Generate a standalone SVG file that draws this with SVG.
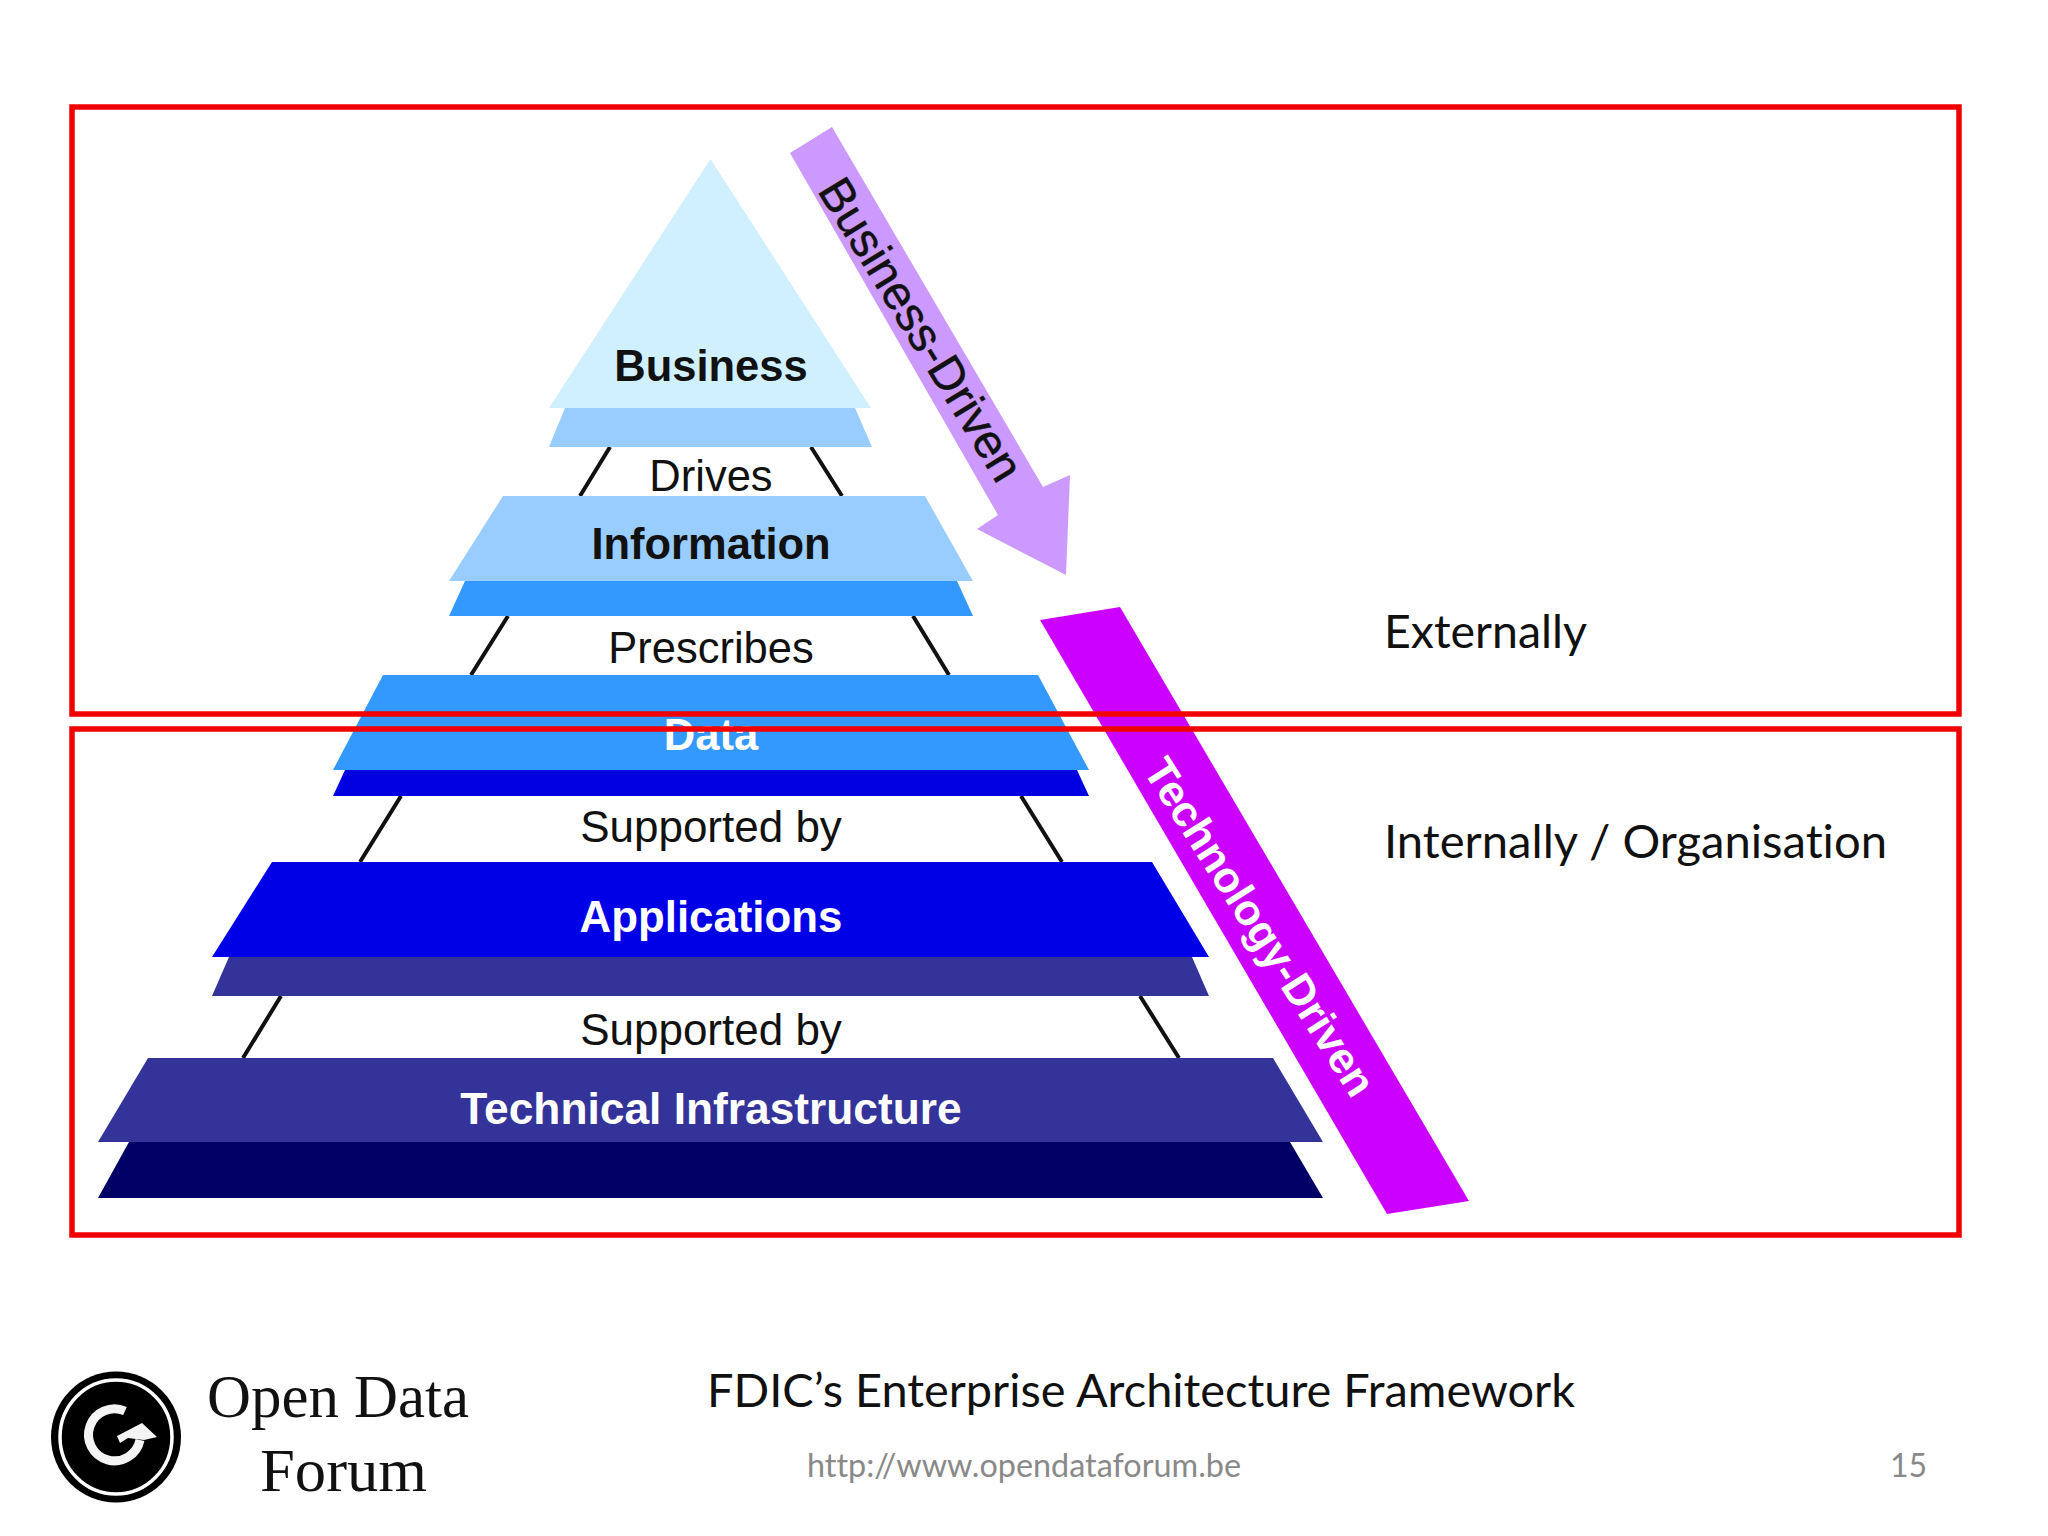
<svg xmlns="http://www.w3.org/2000/svg" width="2048" height="1536" viewBox="0 0 2048 1536">
<style>
text{font-family:"Liberation Sans",Arial,sans-serif;font-size:43.5px;text-anchor:middle}
.b{font-weight:bold}
.k{fill:#111}
.w{fill:#fff}
.side{font-family:Lato,"Noto Sans",sans-serif;font-size:47px;text-anchor:start;fill:#111;font-variant-ligatures:none}
.logo{font-family:"Liberation Serif",serif;font-size:61px;fill:#111;text-anchor:start}
.grey{font-family:Lato,"Noto Sans",sans-serif;font-size:32px;fill:#898989;text-anchor:start;font-variant-ligatures:none}
.frame{fill:none;stroke:#f00000;stroke-width:5.5}
.ln{stroke:#111;stroke-width:4;fill:none}
</style>
<rect width="2048" height="1536" fill="#fff"/>
<g id="connectors">
<path class="ln" d="M610 447L580 496M811 447L842 496M508 616L471 675M913 616L949 675M401 796L360 862M1021 796L1062 862M281 996L243 1058M1140 996L1179 1058"/>
</g>
<g id="business">
<polygon points="565,408 855,408 872,447 549,447" fill="#99ccff"/>
<polygon points="710.5,159 871,408 549,408" fill="#d0f0ff"/>
<text class="b k" x="711" y="381">Business</text>
</g>
<g id="drives"><text class="k" x="711" y="491">Drives</text></g>
<g id="information">
<polygon points="465,581 957,581 973,616 449,616" fill="#3399ff"/>
<polygon points="503,496 925,496 973,581 449,581" fill="#99ccff"/>
<text class="b k" x="711" y="559">Information</text>
</g>
<g id="prescribes"><text class="k" x="711" y="663">Prescribes</text></g>
<g id="data">
<polygon points="345,770 1077,770 1089,796 333,796" fill="#0000e0"/>
<polygon points="383,675 1038,675 1089,770 333,770" fill="#3399ff"/>
<text class="b w" x="711" y="750">Data</text>
</g>
<g id="supported1"><text class="k" x="711" y="842" style="font-size:44px">Supported by</text></g>
<g id="applications">
<polygon points="229,957 1192,957 1209,996 212,996" fill="#333399"/>
<polygon points="272,862 1152,862 1209,957 212,957" fill="#0000e6"/>
<text class="b w" x="711" y="932" style="font-size:43.8px">Applications</text>
</g>
<g id="supported2"><text class="k" x="711" y="1045" style="font-size:44px">Supported by</text></g>
<g id="infrastructure">
<polygon points="129,1142 1290,1142 1323,1198 98,1198" fill="#000066"/>
<polygon points="148,1058 1273,1058 1323,1142 98,1142" fill="#333399"/>
<text class="b w" x="711" y="1124" style="font-size:44.3px">Technical Infrastructure</text>
</g>
<g id="business-driven">
<polygon points="790,153 832,127 1043,487 1070,475 1066,575 977,529 998,515" fill="#cc99ff"/>
<text class="k" transform="translate(920 330) rotate(58.5)" y="15" style="font-size:47.5px;stroke:#111;stroke-width:.5">Business-Driven</text>
</g>
<g id="technology-driven">
<polygon points="1040,620 1120,607 1469,1201 1387,1214" fill="#cc00ff"/>
<text class="b w" transform="translate(1260 927) rotate(57.5)" y="15" style="font-size:43.5px">Technology-Driven</text>
</g>
<g id="frames">
<rect class="frame" x="72" y="107" width="1887" height="607"/>
<rect class="frame" x="72" y="729" width="1887" height="506"/>
</g>
<g id="labels">
<text class="side" x="1384" y="648" textLength="203" lengthAdjust="spacingAndGlyphs">Externally</text>
<text class="side" x="1384" y="858" textLength="503" lengthAdjust="spacingAndGlyphs">Internally / Organisation</text>
<text class="side" x="707" y="1407" textLength="868" lengthAdjust="spacingAndGlyphs">FDIC’s Enterprise Architecture Framework</text>
<text class="grey" x="807" y="1477" textLength="434" lengthAdjust="spacingAndGlyphs">http://www.opendataforum.be</text>
<text class="grey" x="1890" y="1477">15</text>
</g>
<g id="logo">
<ellipse cx="116" cy="1437" rx="65" ry="65.5" fill="#000"/>
<ellipse cx="116" cy="1437" rx="56" ry="57" fill="none" stroke="#fff" stroke-width="3.5"/>
<path d="M125 1411A26 26 0 1 0 140 1440" fill="none" stroke="#f4f4f4" stroke-width="9"/>
<polygon points="117,1436 142,1423 157,1437 144,1440 128,1438 120,1443" fill="#f4f4f4"/>
<text class="logo" x="207" y="1417" textLength="262" lengthAdjust="spacingAndGlyphs">Open Data</text>
<text class="logo" x="260" y="1491" textLength="167" lengthAdjust="spacingAndGlyphs">Forum</text>
</g>
</svg>
